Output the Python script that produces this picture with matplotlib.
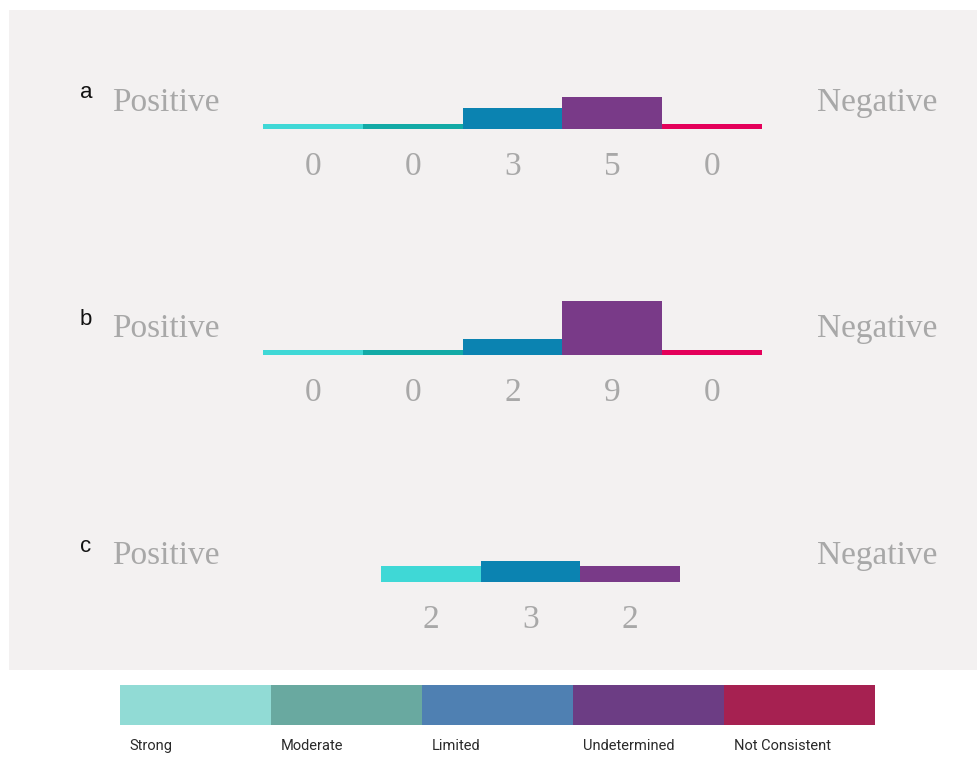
import matplotlib.pyplot as plt
from matplotlib.patches import Rectangle

W, H = 977, 765

levels = ["Strong", "Moderate", "Limited", "Undetermined", "Not Consistent"]
bar_colors = ["#3fd8d6", "#12aaa6", "#0b83b1", "#793a88", "#e4005a"]
key_colors = ["#91dbd5", "#69a9a0", "#4f80b2", "#6c3d84", "#a62151"]

counts_a = [0, 0, 3, 5, 0]
counts_b = [0, 0, 2, 9, 0]
counts_c = [2, 3, 2]
colors_c = [bar_colors[0], bar_colors[2], bar_colors[3]]

base = 0.9          # zero counts still show as a thin strip
label_font = ["Liberation Serif", "DejaVu Serif"]
grey = "#a8a8a8"


def px(x, y, w, h):
    # pixel box (top-left origin) -> figure fraction rect
    return [x / W, 1 - (y + h) / H, w / W, h / H]


fig = plt.figure(figsize=(W / 100, H / 100), dpi=100)
fig.patch.set_facecolor("white")
fig.patches.append(Rectangle((9 / W, 1 - 670 / H), 968 / W, 660 / H,
                             transform=fig.transFigure, facecolor="#f3f1f1",
                             edgecolor="none", zorder=-5))


def panel(letter, counts, colors, left, width, baseline):
    ax = fig.add_axes(px(left, baseline - 66, width, 66))
    n = len(counts)
    ax.bar(range(n), [c + base for c in counts], width=1.0, color=colors)
    ax.set_xlim(-0.5, n - 0.5)
    ax.set_ylim(0, 12)
    ax.axis("off")
    for i, c in enumerate(counts):
        ax.annotate(str(c), (i, 0), xytext=(0, -27), textcoords="offset points",
                    ha="center", va="center", fontsize=24, color=grey,
                    family=label_font)
    top = baseline - 26
    fig.text(80 / W, 1 - (top - 10) / H, letter, fontsize=16, color="#111111",
             family="Liberation Sans", fontweight="medium", ha="left", va="center")
    fig.text(112 / W, 1 - top / H, "Positive", fontsize=24, color=grey,
             family=label_font, ha="left", va="center")
    fig.text(937 / W, 1 - top / H, "Negative", fontsize=24, color=grey,
             family=label_font, ha="right", va="center")


panel("a", counts_a, bar_colors, 263, 499, 129)
panel("b", counts_b, bar_colors, 263, 499, 355)
panel("c", counts_c, colors_c, 381, 299, 582)

# colour key
kax = fig.add_axes(px(120, 685, 755, 40))
kax.bar(range(len(levels)), [1] * len(levels), width=1.0, color=key_colors,
        align="edge")
kax.set_xlim(0, len(levels))
kax.set_ylim(0, 1)
kax.axis("off")
for i, name in enumerate(levels):
    kax.annotate(name, (i, 0), xytext=(7, -15), textcoords="offset points",
                 ha="left", va="center", fontsize=10.5, color="#2a2a2a",
                 family="Roboto")

fig.savefig("out.png", dpi=100, facecolor="white")
